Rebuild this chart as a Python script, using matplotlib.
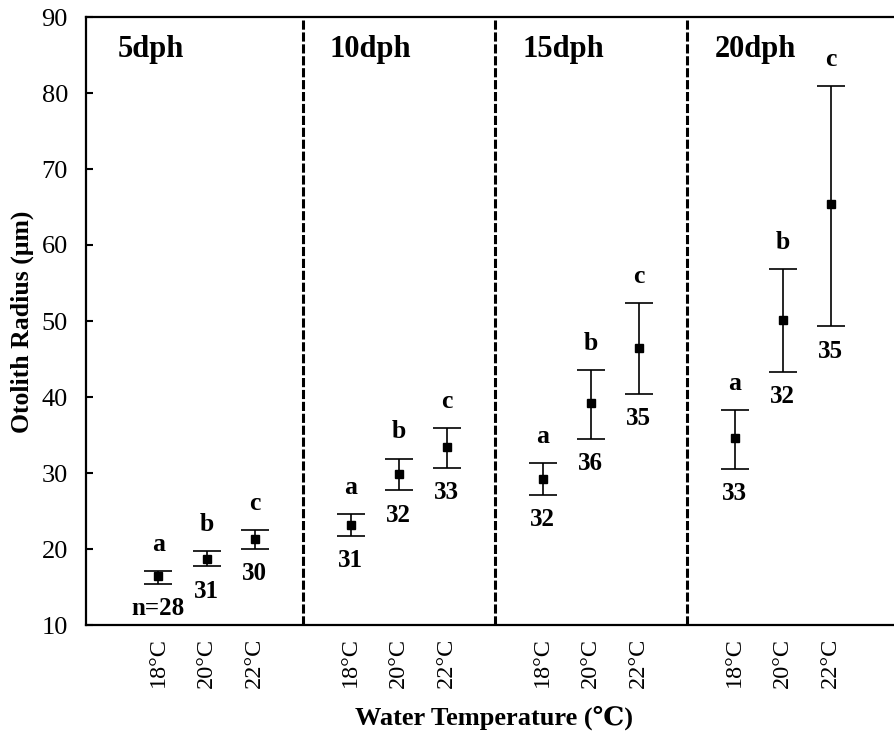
import numpy as np
import matplotlib
matplotlib.use('Agg')
import matplotlib.pyplot as plt

plt.rcParams['font.family'] = ['Liberation Serif', 'DejaVu Serif', 'DejaVu Sans']

# data
ages = ['5dph', '10dph', '15dph', '20dph']
temps = ['18°C', '20°C', '22°C']
means = [[16.4, 18.7, 21.3],
         [23.2, 29.9, 33.4],
         [29.2, 39.2, 46.5],
         [34.6, 50.1, 65.4]]
upper = [[17.1, 19.7, 22.5],
         [24.6, 31.9, 35.9],
         [31.3, 43.5, 52.4],
         [38.3, 56.8, 80.9]]
lower = [[15.4, 17.7, 20.0],
         [21.7, 27.7, 30.7],
         [27.1, 34.5, 40.4],
         [30.5, 43.3, 49.3]]
letters = ['a', 'b', 'c']
counts = [['n=28', '31', '30'],
          ['31', '32', '33'],
          ['32', '36', '35'],
          ['33', '32', '35']]

fig = plt.figure(figsize=(8.95, 7.36), dpi=100)
ax = fig.add_axes([86/895, 111/736, 809/895, 608/736])

xs = []
for g in range(len(ages)):
    x = np.arange(3) + 4*g
    m = np.array(means[g])
    lo = m - np.array(lower[g])
    hi = np.array(upper[g]) - m
    ax.errorbar(x, m, yerr=[lo, hi], fmt='s', color='black', ms=5.5,
                ecolor='black', elinewidth=1.2, capsize=10, capthick=1.2)
    for i in range(3):
        ax.annotate(letters[i], (x[i], upper[g][i]), xytext=(0, 14.5),
                    textcoords='offset points', ha='center', va='baseline',
                    fontsize=18.5, fontweight='bold')
        ax.annotate(counts[g][i], (x[i], lower[g][i]), xytext=(0, -22.5),
                    textcoords='offset points', ha='center', va='baseline',
                    fontsize=18, fontweight='bold')
    xs.extend(x)

# group separators and labels
for d in [3, 7, 11]:
    ax.axvline(d, color='black', lw=2.2, dashes=(3, 0.9))
label_x = [-0.85, 3.57, 7.59, 11.59]
for lx, a in zip(label_x, ages):
    ax.text(lx, 84.7, a, fontsize=22, fontweight='bold', ha='left', va='baseline')

ax.set_xlim(-1.51, 15.34)
ax.set_ylim(10, 90)
ax.set_yticks(range(10, 91, 10))
ax.set_xticks(xs)
ax.set_xticklabels(temps * 4, rotation=90, fontsize=17.5)
ax.tick_params(axis='x', length=0, pad=9)
ax.tick_params(axis='y', direction='in', length=5, width=1.5, labelsize=19, pad=13)

for s in ['left', 'bottom', 'top']:
    ax.spines[s].set_linewidth(1.6)
ax.spines['right'].set_visible(False)

fig.text(22/895, 1 - 322/736, 'Otolith Radius (μm)', rotation=90, ha='center',
         va='center', fontsize=18.5, fontweight='bold')
fig.text(494/895, 1 - 718/736, 'Water Temperature (℃)', ha='center', va='center',
         fontsize=19, fontweight='bold')

fig.savefig('out.png', dpi=100)
